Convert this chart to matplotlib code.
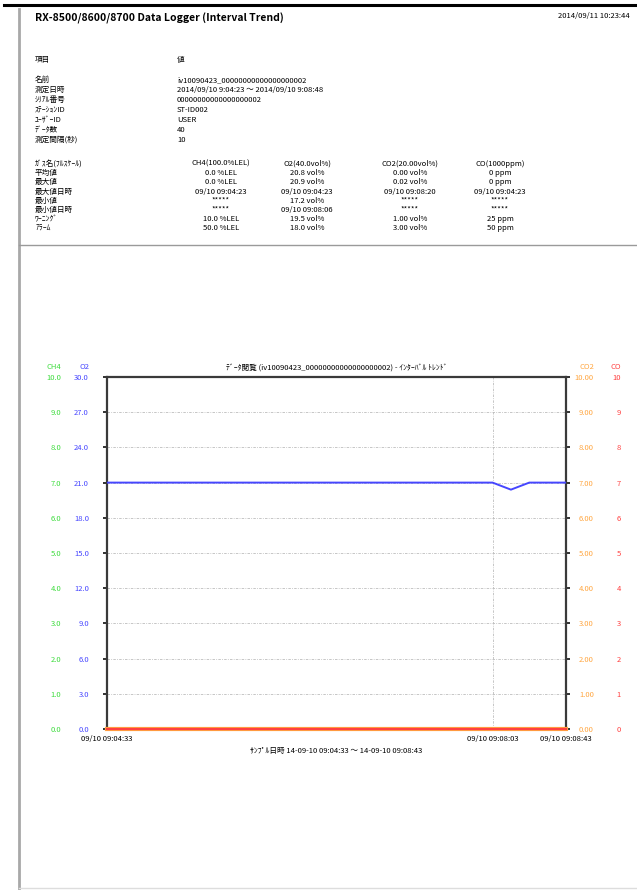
import matplotlib
matplotlib.use("Agg")
import matplotlib.pyplot as plt
from matplotlib.lines import Line2D
import pandas as pd

plt.rcParams['font.family'] = ['Noto Sans CJK JP', 'DejaVu Sans']

W, H = 637, 890

report_title = "RX-8500/8600/8700 Data Logger (Interval Trend)"
printed_at = "2014/09/11 10:23:44"

info_labels = ["名前", "測定日時", "ｼﾘｱﾙ番号", "ｽﾃｰｼｮﾝID", "ﾕｰｻﾞｰID", "ﾃﾞｰﾀ数", "測定間隔(秒)"]
info_values = ["iv10090423_00000000000000000002",
               "2014/09/10 9:04:23 ～ 2014/09/10 9:08:48",
               "00000000000000000002", "ST-ID002", "USER", "40", "10"]

stat_labels = ["ｶﾞｽ名(ﾌﾙｽｹｰﾙ)", "平均値", "最大値", "最大値日時", "最小値", "最小値日時", "ﾜｰﾆﾝｸﾞ", "ｱﾗｰﾑ"]
stat_ch4 = ["CH4(100.0%LEL)", "0.0 %LEL", "0.0 %LEL", "09/10 09:04:23", "*****", "*****", "10.0 %LEL", "50.0 %LEL"]
stat_o2 = ["O2(40.0vol%)", "20.8 vol%", "20.9 vol%", "09/10 09:04:23", "17.2 vol%", "09/10 09:08:06", "19.5 vol%", "18.0 vol%"]
stat_co2 = ["CO2(20.00vol%)", "0.00 vol%", "0.02 vol%", "09/10 09:08:20", "*****", "*****", "1.00 vol%", "3.00 vol%"]
stat_co = ["CO(1000ppm)", "0 ppm", "0 ppm", "09/10 09:04:23", "*****", "*****", "25 ppm", "50 ppm"]

chart_title = "ﾃﾞｰﾀ閲覧 (iv10090423_00000000000000000002) - ｲﾝﾀｰﾊﾞﾙ ﾄﾚﾝﾄﾞ"
x_title = "ｻﾝﾌﾟﾙ日時 14-09-10 09:04:33 ～ 14-09-10 09:08:43"

# 10 s sampling, 09:04:33 .. 09:08:43
times = pd.date_range("2014-09-10 09:04:33", "2014-09-10 09:08:43", freq="10s")
o2 = [21.0, 21.0, 21.0, 21.0, 21.0, 21.0, 21.0, 21.0, 21.0, 21.0, 21.0, 21.0, 21.0,
      21.0, 21.0, 21.0, 21.0, 21.0, 21.0, 21.0, 21.0, 21.0, 20.4, 21.0, 21.0, 21.0]
ch4 = [0.0, 0.0, 0.0, 0.0, 0.0, 0.0, 0.0, 0.0, 0.0, 0.0, 0.0, 0.0, 0.0,
       0.0, 0.0, 0.0, 0.0, 0.0, 0.0, 0.0, 0.0, 0.0, 0.0, 0.0, 0.0, 0.0]
co2 = [0.00, 0.00, 0.00, 0.00, 0.00, 0.00, 0.00, 0.00, 0.00, 0.00, 0.00, 0.00, 0.00,
       0.00, 0.00, 0.00, 0.00, 0.00, 0.00, 0.00, 0.00, 0.00, 0.00, 0.00, 0.00, 0.00]
co = [0, 0, 0, 0, 0, 0, 0, 0, 0, 0, 0, 0, 0,
      0, 0, 0, 0, 0, 0, 0, 0, 0, 0, 0, 0, 0]

ch4_ticks = [0, 1, 2, 3, 4, 5, 6, 7, 8, 9, 10]
o2_ticks = [0, 3, 6, 9, 12, 15, 18, 21, 24, 27, 30]
co2_ticks = [0, 1, 2, 3, 4, 5, 6, 7, 8, 9, 10]
co_ticks = [0, 1, 2, 3, 4, 5, 6, 7, 8, 9, 10]
x_ticks = [times[0], times[21], times[25]]

c_ch4 = "#3ddc3d"
c_o2 = "#4646ff"
c_co2 = "#ffa640"
c_co = "#ff4040"

FS = 5.5


def px(x, y):
    return x / W, 1 - y / H


fig = plt.figure(figsize=(W / 100, H / 100), dpi=100)

# page frame
fig.add_artist(Line2D([4 / W, 1], [1 - 5 / H] * 2, color="black", lw=2.2))
fig.add_artist(Line2D([19 / W] * 2, [1 - 9 / H, 1 - 889 / H], color="#a8a8a8", lw=2))
fig.add_artist(Line2D([19 / W, 1], [1 - 888 / H] * 2, color="#dddddd", lw=1))
fig.add_artist(Line2D([19 / W, 1], [1 - 245 / H] * 2, color="#9a9a9a", lw=1))

fig.text(*px(35, 18), report_title, fontsize=7.5, fontweight="bold", va="center")
fig.text(*px(630, 16), printed_at, fontsize=FS, ha="right", va="center")

fig.text(*px(35, 60), "項目", fontsize=FS, va="center")
fig.text(*px(177, 60), "値", fontsize=FS, va="center")
for i, (lab, val) in enumerate(zip(info_labels, info_values)):
    y = 80 + i * 10
    fig.text(*px(35, y), lab, fontsize=FS, va="center")
    fig.text(*px(177, y), val, fontsize=FS, va="center")

for i in range(len(stat_labels)):
    y = 164 + i * 9.2
    fig.text(*px(35, y), stat_labels[i], fontsize=FS, va="center")
    for cx, col in zip([221, 307, 410, 500], [stat_ch4, stat_o2, stat_co2, stat_co]):
        fig.text(*px(cx, y), col[i], fontsize=FS, ha="center", va="center")

# trend chart
ax = fig.add_axes([107 / W, 1 - 729 / H, (566 - 107) / W, (729 - 377) / H])
ax_ch4 = ax.twinx()
ax_co2 = ax.twinx()
ax_co = ax.twinx()

ax.plot(times, o2, color=c_o2, lw=1.4, zorder=3)
ax_ch4.plot(times, ch4, color=c_ch4, lw=2, clip_on=False, zorder=5)
ax_co2.plot(times, co2, color=c_co2, lw=3, clip_on=False, zorder=5)
ax_co.plot(times, co, color=c_co, lw=1.6, clip_on=False, zorder=6)

ax.set_xlim(times[0], times[-1])
ax.set_ylim(0, 30)
ax.set_yticks(o2_ticks)
ax.set_yticklabels([f"{v:.1f}" for v in o2_ticks], color=c_o2, fontsize=FS)
ax.tick_params(axis="y", which="both", left=True, right=True, direction="out",
               length=3, width=1.3, color="#222222", pad=10)
ax.set_xticks(x_ticks)
ax.set_xticklabels([t.strftime("%m/%d %H:%M:%S") for t in x_ticks], fontsize=FS)
ax.tick_params(axis="x", length=0, pad=4.5)
ax.grid(True, color="#bdbdbd", lw=0.6, linestyle=(0, (3, 1.5, 1, 1.5)))
for s in ax.spines.values():
    s.set_color("#3a3a3a")
    s.set_linewidth(1.6)

for tw, lim, ticks, labels, color, side, pad in [
    (ax_ch4, 10, ch4_ticks, [f"{v:.1f}" for v in ch4_ticks], c_ch4, "left", 33),
    (ax_co2, 10, co2_ticks, [f"{v:.2f}" for v in co2_ticks], c_co2, "right", 20),
    (ax_co, 10, co_ticks, [f"{v:d}" for v in co_ticks], c_co, "right", 39.5),
]:
    tw.set_ylim(0, lim)
    tw.set_yticks(ticks)
    tw.set_yticklabels(labels, color=color, fontsize=FS)
    if side == "left":
        tw.yaxis.tick_left()
    else:
        tw.yaxis.tick_right()
        for lab in tw.get_yticklabels():
            lab.set_horizontalalignment("right")
    tw.tick_params(axis="y", length=0, pad=pad)
    for s in tw.spines.values():
        s.set_visible(False)
    tw.patch.set_visible(False)

fig.text(*px(61, 367), "CH4", color=c_ch4, fontsize=FS, ha="right", va="center")
fig.text(*px(89, 367), "O2", color=c_o2, fontsize=FS, ha="right", va="center")
fig.text(*px(594, 367), "CO2", color=c_co2, fontsize=FS, ha="right", va="center")
fig.text(*px(621, 367), "CO", color=c_co, fontsize=FS, ha="right", va="center")

ax.set_title(chart_title, fontsize=FS, pad=5)
fig.text(*px(336, 751), x_title, fontsize=FS, ha="center", va="center")

fig.savefig("out.png", dpi=100)
